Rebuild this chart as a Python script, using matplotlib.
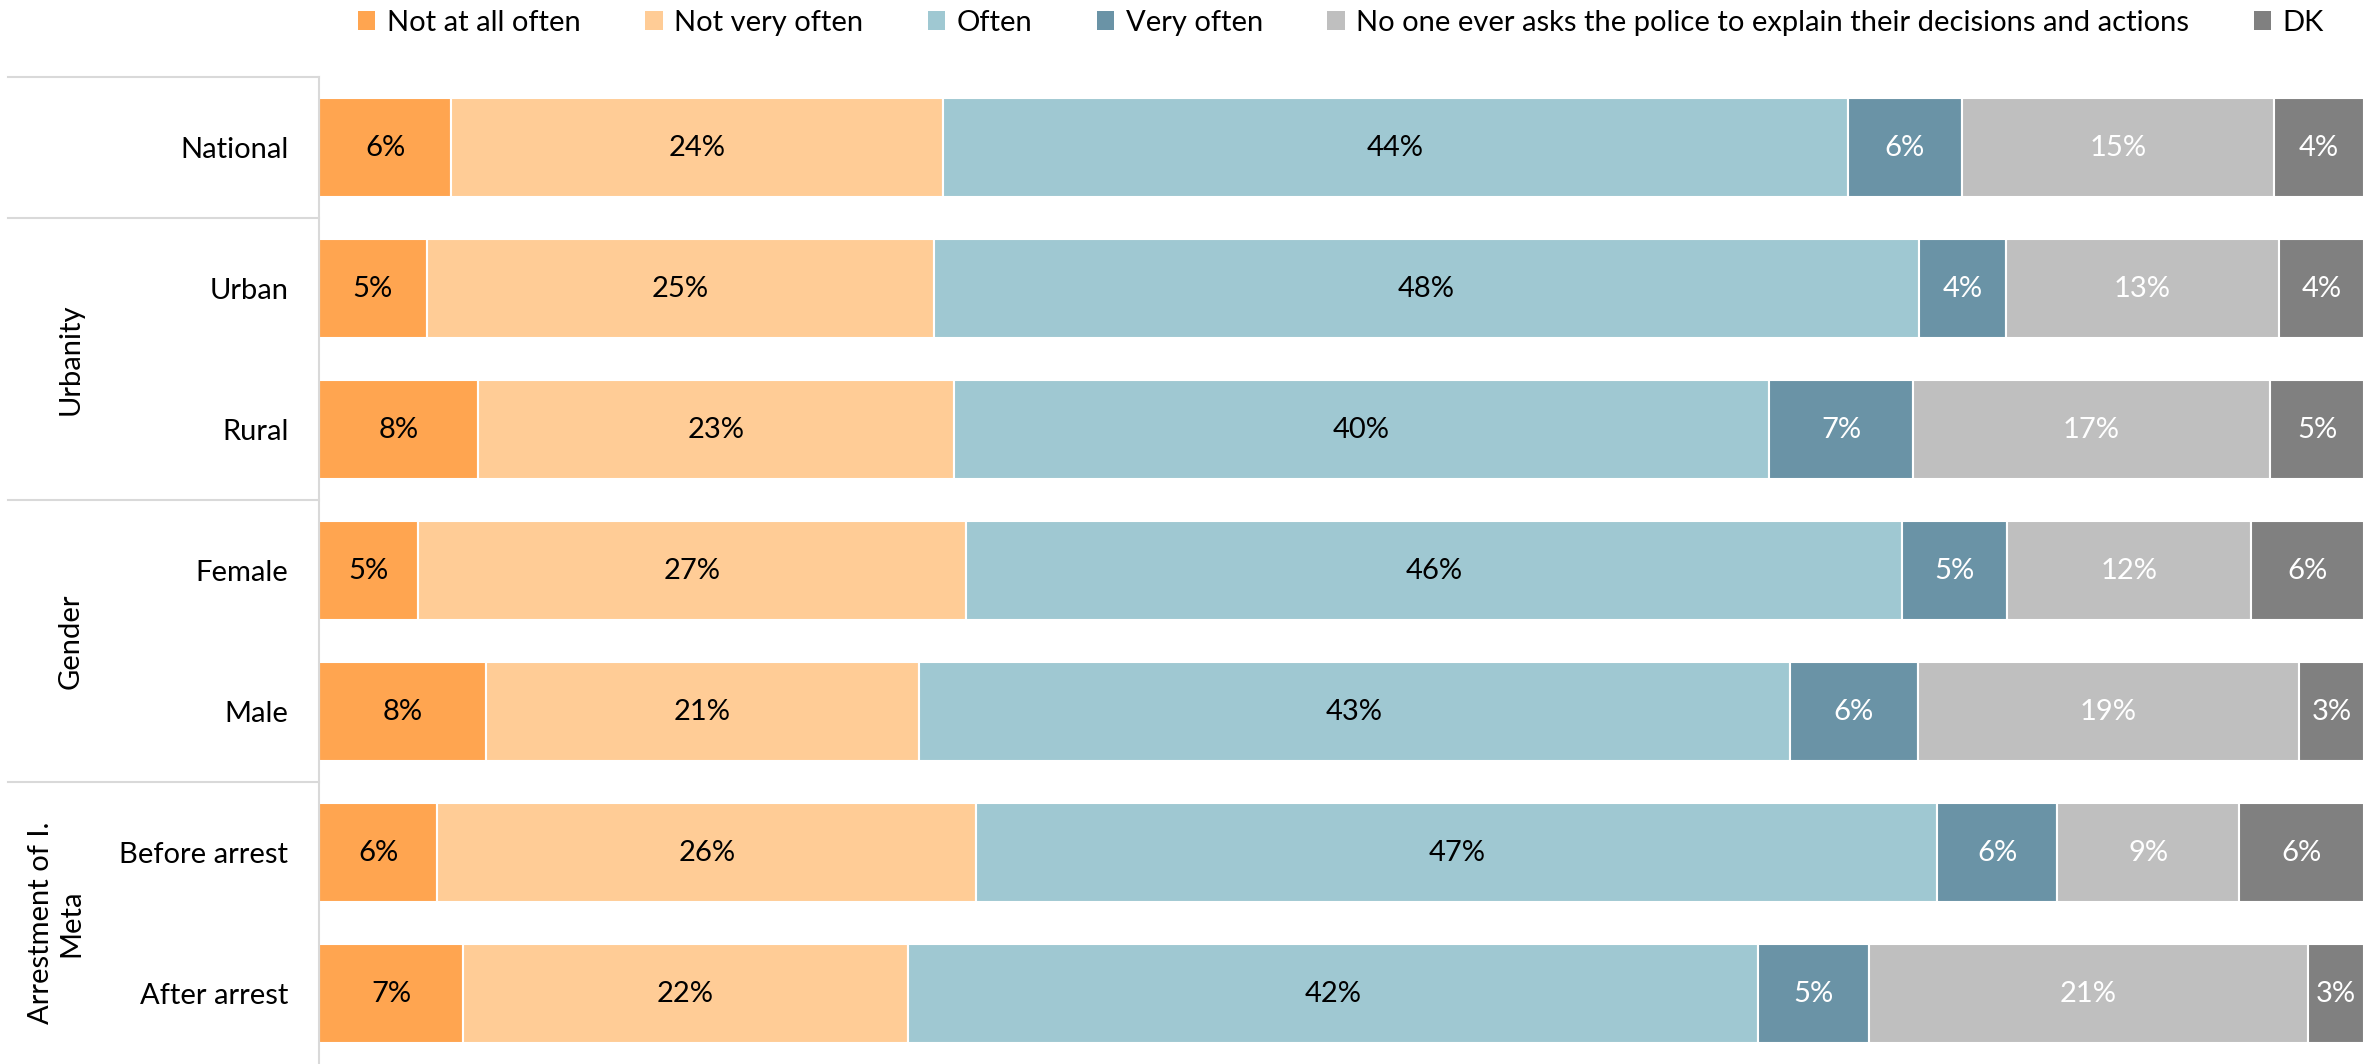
import matplotlib
matplotlib.use("Agg")
import matplotlib.pyplot as plt
from matplotlib.patches import Patch
import numpy as np

plt.rcParams['font.family'] = ['Lato', 'DejaVu Sans']

# data (percent)
rows = ["National", "Urban", "Rural", "Female", "Male", "Before arrest", "After arrest"]
series = ["Not at all often", "Not very often", "Often", "Very often",
          "No one ever asks the police to explain their decisions and actions", "DK"]
not_at_all = [6.46, 5.27, 7.80, 4.83, 8.17, 5.79, 7.05]
not_very = [24.05, 24.80, 23.24, 26.80, 21.16, 26.36, 21.75]
often = [44.25, 48.18, 39.87, 45.81, 42.61, 46.99, 41.57]
very_often = [5.57, 4.23, 7.05, 5.12, 6.24, 5.86, 5.42]
no_one = [15.29, 13.36, 17.45, 11.90, 18.63, 8.91, 21.46]
dk = [4.38, 4.16, 4.60, 5.55, 3.19, 6.09, 2.75]
groups = ["", "Urbanity", "Gender", "Arrestment of I.\nMeta"]
group_rows = [(0, 0), (1, 2), (3, 4), (5, 6)]

colors = ["#FFA550", "#FFCC96", "#9FC8D2", "#6A93A6", "#BFBFBF", "#808080"]
label_colors = ["black", "black", "black", "white", "white", "white"]

data = np.array([not_at_all, not_very, often, very_often, no_one, dk])
data = data / data.sum(axis=0) * 100

fig = plt.figure(figsize=(23.8, 10.64), dpi=100)
ax = fig.add_axes([319 / 2380, 0, (2364 - 319) / 2380, 1 - 77 / 1064])

y = np.arange(len(rows))
left = np.zeros(len(rows))
for i, vals in enumerate(data):
    ax.barh(y, vals, left=left, height=0.7, color=colors[i],
            edgecolor="white", linewidth=1.5)
    for j, v in enumerate(vals):
        ax.text(left[j] + v / 2, y[j], f"{round(v)}%", ha="center", va="center",
                fontsize=21, color=label_colors[i])
    left += vals

ax.set_xlim(0, 100)
ax.set_ylim(len(rows) - 0.5, -0.5)
ax.set_yticks(y)
ax.set_yticklabels(rows, fontsize=21)
ax.tick_params(axis="y", length=0, pad=22)
ax.set_xticks([])
for s in ["top", "right", "bottom"]:
    ax.spines[s].set_visible(False)
ax.spines["left"].set_color("#D9D9D9")
ax.spines["left"].set_linewidth(1.5)

# group separators and labels on the left
tr = ax.get_yaxis_transform()
x0 = (8 - 319) / (2364 - 319)
for b in [-0.5, 0.5, 2.5, 4.5]:
    ax.plot([x0, 0], [b, b], color="#D9D9D9", lw=1.5, transform=tr, clip_on=False)
xg = (84 - 319) / (2364 - 319)
for name, (a, b) in zip(groups, group_rows):
    if name:
        ax.text(xg, (a + b) / 2, name, rotation=90, ha="right", va="center",
                fontsize=21, transform=tr, multialignment="center")

handles = [Patch(facecolor=c, edgecolor="none") for c in colors]
fig.legend(handles, series, loc="center", bbox_to_anchor=(1341 / 2380, 1 - 23 / 1064),
           ncol=6, frameon=False, fontsize=21, handlelength=0.6, handleheight=0.6,
           handletextpad=0.4, columnspacing=2.2)

fig.savefig("out.png", dpi=100)
